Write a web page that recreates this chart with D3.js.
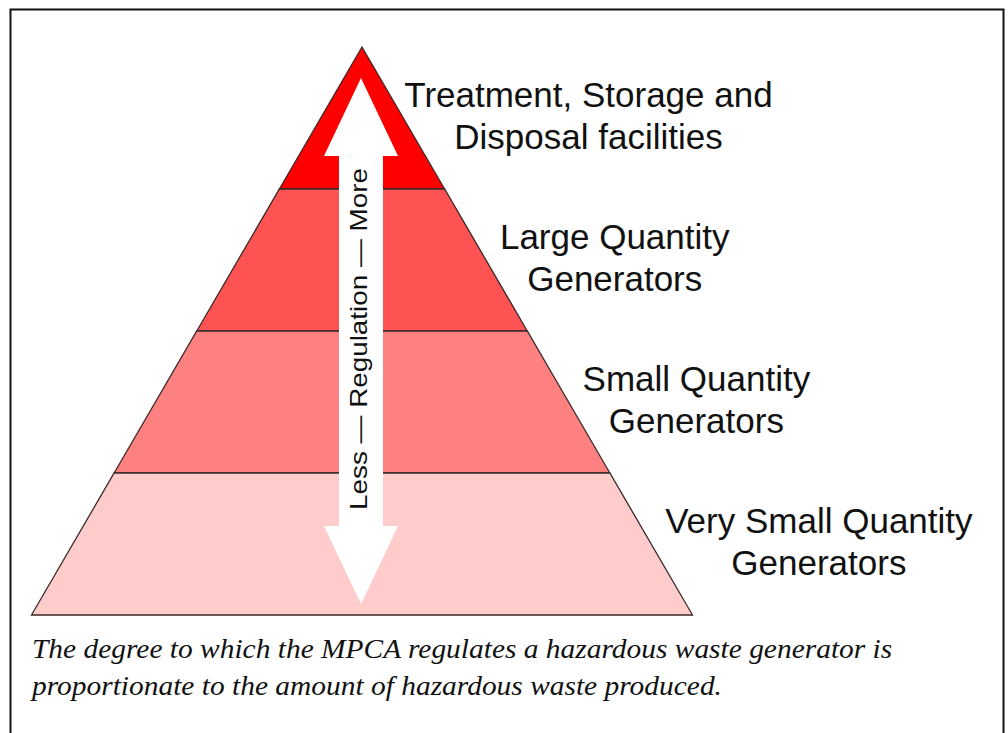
<!DOCTYPE html>
<html>
<head>
<meta charset="utf-8">
<script src="https://cdn.jsdelivr.net/npm/d3@7"></script>
<style>
  body { margin: 0; background: #fff; }
</style>
</head>
<body>
<div class="chart"></div>
<script>
// levels from top (most regulated) to bottom
const levels = ["tsdf", "lqg", "sqg", "vsqg"];
const labelLines = [
    ["Treatment, Storage and", "Disposal facilities"],
    ["Large Quantity", "Generators"],
    ["Small Quantity", "Generators"],
    ["Very Small Quantity", "Generators"]
];
const fills = ["#ff0000", "#ff5252", "#ff8080", "#ffcccc"];
const arrowText = "Less \u2014 Regulation \u2014 More";
const caption = [
    "The degree to which the MPCA regulates a hazardous waste generator is",
    "proportionate to the amount of hazardous waste produced."
];

function pyramid() {
    const width = 1008, height = 733;

    const svg = d3.select(".chart")
        .append("svg")
        .attr("width", width)
        .attr("height", height);

    // frame
    svg.append("rect")
        .attr("x", 10.5)
        .attr("y", 9.5)
        .attr("width", 993)
        .attr("height", 740)
        .attr("fill", "none")
        .attr("stroke", "#111")
        .attr("stroke-width", 2);

    const apexX = 362;
    // y: level boundary index -> pixel
    const y = d3.scaleLinear()
        .domain([0, levels.length])
        .range([47, 615]);
    // half width of pyramid at a level boundary index
    const half = d3.scaleLinear()
        .domain([0, levels.length])
        .range([0, 330.5]);

    const layers = svg.append("g");
    levels.forEach((d, i) => {
        const pts = [
            [apexX - half(i), y(i)],
            [apexX + half(i), y(i)],
            [apexX + half(i + 1), y(i + 1)],
            [apexX - half(i + 1), y(i + 1)]
        ];
        layers.append("path")
            .attr("d", "M" + pts.join("L") + "Z")
            .attr("fill", fills[i])
            .attr("stroke", "#3a2a2a")
            .attr("stroke-width", 1.3)
            .attr("stroke-linejoin", "miter");
    });

    // double-headed arrow
    const ay = d3.scaleLinear().domain([0, 1]).range([78, 604]);
    const shaftW = 22, headW = 37, headH = 78;
    const top = ay(0), bot = ay(1), cx = 361;
    const arrow = [
        [cx, top],
        [cx + headW, top + headH],
        [cx + shaftW, top + headH],
        [cx + shaftW, bot - headH],
        [cx + headW, bot - headH],
        [cx, bot],
        [cx - headW, bot - headH],
        [cx - shaftW, bot - headH],
        [cx - shaftW, top + headH],
        [cx - headW, top + headH]
    ];
    svg.append("path")
        .attr("d", "M" + arrow.join("L") + "Z")
        .attr("fill", "#fff")
        .attr("stroke", "none");

    svg.append("text")
        .text(arrowText)
        .attr("transform", `translate(${cx + 6},339) rotate(-90)`)
        .attr("text-anchor", "middle")
        .attr("font-family", "Liberation Sans, Arial, sans-serif")
        .attr("font-size", 24)
        .attr("textLength", 342)
        .attr("lengthAdjust", "spacingAndGlyphs")
        .attr("fill", "#111");

    // labels to the right of each layer
    const labels = svg.append("g")
        .attr("font-family", "Liberation Sans, Arial, sans-serif")
        .attr("font-size", 35)
        .attr("fill", "#111");
    labelLines.forEach((lines, i) => {
        const mid = (y(i) + y(i + 1)) / 2;
        const edge = apexX + (half(i) + half(i + 1)) / 2;
        const gap = i === 0 ? 1 : 14;
        const t = labels.append("text")
            .attr("text-anchor", "middle");
        lines.forEach((s, j) => {
            t.append("tspan")
                .text(s)
                .attr("y", mid - 11 + j * 42);
        });
        const w = d3.max(t.selectAll("tspan").nodes(), n => n.getComputedTextLength());
        t.selectAll("tspan").attr("x", edge + gap + w / 2);
    });

    const capG = svg.append("g")
        .attr("font-family", "Liberation Serif, Times New Roman, serif")
        .attr("font-style", "italic")
        .attr("font-size", 27)
        .attr("fill", "#111");
    capG.selectAll("text")
        .data(caption)
        .join("text")
        .text(d => d)
        .attr("x", 32)
        .attr("y", (d, i) => 658 + i * 37)
        .each(function () {
            // stretch to the wider face used in the original
            const n = this.getComputedTextLength();
            d3.select(this)
                .attr("textLength", n * 1.09)
                .attr("lengthAdjust", "spacingAndGlyphs");
        });
}
pyramid();
</script>
</body>
</html>
